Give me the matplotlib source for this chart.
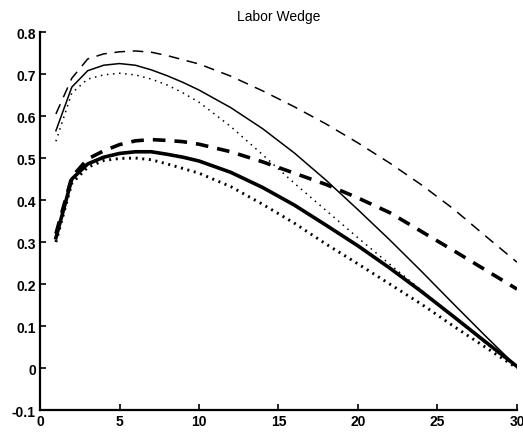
import matplotlib
matplotlib.use("Agg")
import matplotlib.pyplot as plt

# ---- data ----
x_main = [1, 2, 3, 4, 5, 6, 7, 8, 9, 10, 12, 14, 16, 18, 20, 22, 24, 26, 28, 30]

upper_dashed = [0.605, 0.690, 0.736, 0.748, 0.753, 0.755, 0.752, 0.744, 0.734, 0.724,
                0.695, 0.660, 0.622, 0.581, 0.536, 0.488, 0.436, 0.379, 0.315, 0.252]
upper_solid = [0.565, 0.669, 0.708, 0.721, 0.725, 0.721, 0.710, 0.696, 0.680, 0.662,
               0.620, 0.570, 0.512, 0.447, 0.377, 0.305, 0.230, 0.153, 0.077, 0.003]
upper_dotted = [0.540, 0.655, 0.688, 0.698, 0.702, 0.698, 0.688, 0.674, 0.655, 0.633,
                0.575, 0.508, 0.440, 0.375, 0.310, 0.247, 0.185, 0.122, 0.060, 0.000]

lower_dashed = [0.320, 0.455, 0.498, 0.517, 0.532, 0.541, 0.544, 0.542, 0.539, 0.533,
                0.515, 0.491, 0.464, 0.437, 0.405, 0.370, 0.325, 0.280, 0.234, 0.188]
lower_solid = [0.310, 0.450, 0.486, 0.502, 0.511, 0.515, 0.515, 0.509, 0.502, 0.493,
               0.466, 0.430, 0.388, 0.340, 0.291, 0.238, 0.182, 0.123, 0.063, 0.004]
lower_dotted = [0.300, 0.440, 0.478, 0.494, 0.499, 0.500, 0.496, 0.486, 0.475, 0.464,
                0.432, 0.390, 0.345, 0.295, 0.248, 0.200, 0.152, 0.100, 0.050, 0.000]

x_ticks = [0, 5, 10, 15, 20, 25, 30]
y_ticks = [-0.1, 0, 0.1, 0.2, 0.3, 0.4, 0.5, 0.6, 0.7, 0.8]
y_tick_labels = ["-0.1", "0", "0.1", "0.2", "0.3", "0.4", "0.5", "0.6", "0.7", "0.8"]
title = "Labor Wedge"

plt.rcParams['font.family'] = ['Liberation Sans', 'DejaVu Sans']

fig = plt.figure(figsize=(5.23, 4.35), dpi=100)
ax = fig.add_axes([0.0765, 0.055, 0.912, 0.869])

thin = 1.1
thick = 2.6
ax.plot(x_main, upper_dashed, color='black', lw=thin, linestyle=(0, (7, 5)))
ax.plot(x_main, upper_solid, color='black', lw=thin, linestyle='-')
ax.plot(x_main, upper_dotted, color='black', lw=thin, linestyle=(0, (1, 3)))
ax.plot(x_main, lower_dashed, color='black', lw=thick, linestyle=(0, (3.5, 2.5)))
ax.plot(x_main, lower_solid, color='black', lw=thick, linestyle='-')
ax.plot(x_main, lower_dotted, color='black', lw=thick * 0.8, linestyle=(0, (0.7, 1.6)))

ax.set_xlim(0, 30)
ax.set_ylim(-0.1, 0.8)
ax.set_xticks(x_ticks)
ax.set_xticklabels([str(t) for t in x_ticks])
ax.set_yticks(y_ticks)
ax.set_yticklabels(y_tick_labels)

for s in ['top', 'right']:
    ax.spines[s].set_visible(False)
ax.spines['left'].set_linewidth(1.6)
ax.spines['bottom'].set_linewidth(1.6)
ax.tick_params(direction='in', length=4, width=1.2, labelsize=10, pad=3)
for lbl in ax.get_xticklabels() + ax.get_yticklabels():
    lbl.set_fontweight('bold')
ax.set_title(title, fontsize=10, pad=9)

fig.savefig("out.png", dpi=100)
